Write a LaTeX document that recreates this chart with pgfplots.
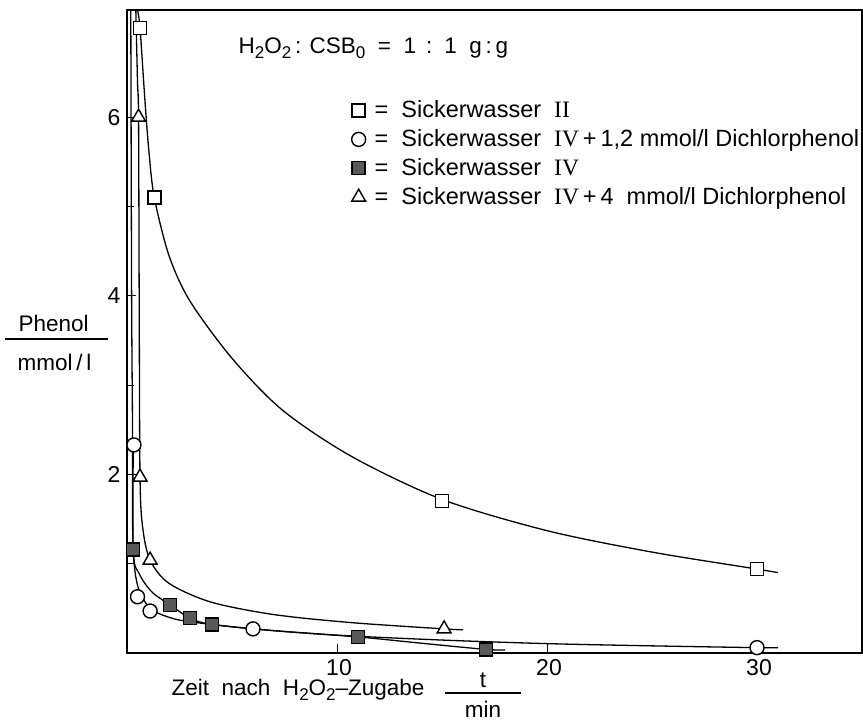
\documentclass[border=0pt]{standalone}
\usepackage{pgfplots}
\pgfplotsset{compat=1.18}
\usepackage{fontspec}
\setmainfont{Liberation Sans}
\newfontfamily\romfont{Liberation Serif}
\newcommand\sub[1]{\raisebox{-0.4ex}{\fontsize{17}{17}\selectfont #1}}
\newcommand\rom[1]{{\romfont #1}}

% measured points
\pgfplotstableread{
t    c
0.62 7.00
1.30 5.10
15.0 1.70
30.0 0.94
}\swII
\pgfplotstableread{
t    c
0.33 2.33
0.50 0.63
1.10 0.47
6.00 0.27
30.0 0.06
}\swIVdcpA
\pgfplotstableread{
t    c
0.29 1.16
2.05 0.54
3.00 0.39
4.05 0.32
11.0 0.18
17.1 0.04
}\swIV
\pgfplotstableread{
t    c
0.55 6.00
0.62 1.97
1.10 1.04
15.1 0.27
}\swIVdcpB

\begin{document}
\fontsize{22.5}{27}\selectfont
\begin{tikzpicture}
\begin{axis}[
  scale only axis, width=735pt, height=643pt,
  xmin=0, xmax=35, ymin=0, ymax=7.2,
  axis line style={line width=1.8pt},
  xtick={10,20,30}, ytick={2,4,6}, minor ytick={1,3,5},
  xtick pos=bottom, ytick pos=left,
  tick align=inside, major tick length=9pt, minor tick length=7pt,
  tick style={line width=1pt, black},
  /pgf/number format/assume math mode=true,
  tick label style={font=\fontsize{23}{27}\selectfont},
  xticklabel style={yshift=1pt, xshift=2pt},
  yticklabel style={xshift=1pt},
  clip=false,
  legend style={draw=none, fill=none, inner sep=0pt,
    at={(rel axis cs:0.3054,0.863)}, anchor=north west,
    font=\fontsize{23.5}{28}\selectfont, row sep=4.5pt,
    /tikz/every odd column/.append style={column sep=7pt}},
  legend cell align=left,
]
\coordinate (O) at (rel axis cs:0,0);
\coordinate (T) at (rel axis cs:1,1);
% fitted curves, hand-traced
\addplot[line width=1.3pt, smooth, tension=0.5, forget plot] coordinates {
 (0.50,7.20) (0.62,7.00) (0.85,6.20) (1.05,5.60) (1.30,5.10) (2.0,4.45) (3.0,3.94)
 (5.0,3.30) (7.4,2.72) (10.7,2.20) (15.0,1.72) (20.0,1.37) (25.0,1.13) (30.0,0.94) (31.0,0.90)};
\addplot[line width=1.3pt, smooth, tension=0.5, forget plot] coordinates {
 (0.42,7.20) (0.50,6.40) (0.55,6.00) (0.58,4.00) (0.62,1.97) (0.75,1.40) (1.10,1.04)
 (2.0,0.78) (4.0,0.57) (7.0,0.43) (10.7,0.34) (15.1,0.27) (16.0,0.26)};
\addplot[line width=1.3pt, smooth, tension=0.5, forget plot] coordinates {
 (0.18,7.20) (0.22,4.0) (0.26,2.6) (0.29,1.16) (0.6,0.88) (1.2,0.68) (2.05,0.54) (3.0,0.39)
 (4.05,0.32) (7.0,0.25) (11.0,0.18) (14.0,0.11) (17.1,0.04) (18.0,0.035)};
\addplot[line width=1.3pt, smooth, tension=0.5, forget plot] coordinates {
 (0.30,2.33) (0.28,1.60) (0.32,1.05) (0.55,0.72) (1.10,0.50) (2.0,0.40) (3.0,0.35)
 (6.0,0.27) (10.0,0.20) (15.0,0.145) (20.0,0.105) (25.0,0.08) (30.0,0.06) (31.0,0.06)};
% measured points
\addplot[only marks, mark=square*, mark size=6.5pt, mark options={fill=white, draw=black, line width=1.4pt}]
  table[x=t, y=c] {\swII};
\addlegendentry{= \ Sickerwasser \ \rom{II}}
\addplot[only marks, mark=*, mark size=7pt, mark options={fill=white, draw=black, line width=1.4pt}]
  table[x=t, y=c] {\swIVdcpA};
\addlegendentry{= \ Sickerwasser \ \rom{IV}\,+\,1,2 mmol/l Dichlorphenol}
\addplot[only marks, mark=square*, mark size=6.5pt, mark options={fill=black!65, draw=black, line width=1.4pt}]
  table[x=t, y=c] {\swIV};
\addlegendentry{= \ Sickerwasser \ \rom{IV}}
\addplot[only marks, mark=triangle*, mark size=8pt, mark options={fill=white, draw=black, line width=1.4pt}]
  table[x=t, y=c] {\swIVdcpB};
\addlegendentry{= \ Sickerwasser \ \rom{IV}\,+\,4 \ mmol/l Dichlorphenol}
\end{axis}
% header of the key
\node[anchor=west, font=\fontsize{22.5}{27}\selectfont] at ([shift={(104pt,-38pt)}]O|-T)
  {H\sub{2}O\sub{2}\,: CSB\sub{0} \ = \ 1 \,:\, 1 \ g\,:\,g};
% axis titles
\node[anchor=west] at ([shift={(-116pt,330pt)}]O) {Phenol};
\draw[line width=1.2pt] ([shift={(-122pt,314pt)}]O) -- ([shift={(-19pt,314pt)}]O);
\node[anchor=west] at ([shift={(-117pt,291pt)}]O) {mmol\,/\,l};
\node[anchor=west] at ([shift={(37pt,-37pt)}]O) {Zeit \ nach \ H\sub{2}O\sub{2}--Zugabe};
\node at ([shift={(356pt,-27pt)}]O) {t};
\draw[line width=1.2pt] ([shift={(318pt,-40pt)}]O) -- ([shift={(394pt,-40pt)}]O);
\node at ([shift={(356pt,-56pt)}]O) {min};
\pgfresetboundingbox
\path ([shift={(-127pt,-70pt)}]O) rectangle ([shift={(1pt,10pt)}]T);
\end{tikzpicture}
\end{document}
